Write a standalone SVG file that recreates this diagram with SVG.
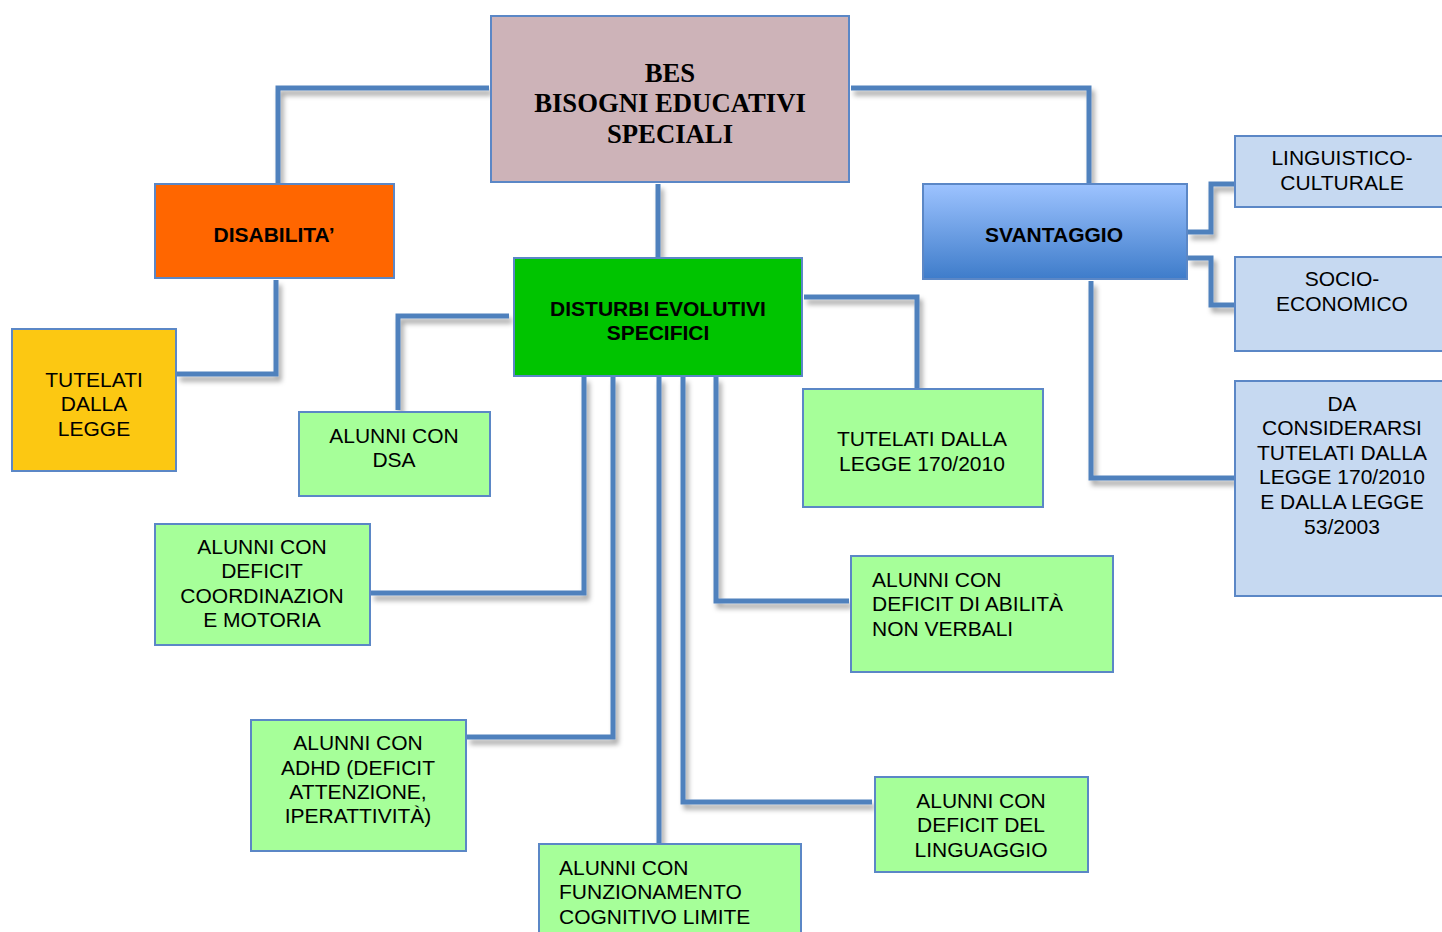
<svg xmlns="http://www.w3.org/2000/svg" width="1442" height="932" viewBox="0 0 1442 932">
<defs>
<linearGradient id="gSv" x1="0" y1="0" x2="0" y2="1">
<stop offset="0" stop-color="#9DC3FF"/>
<stop offset="1" stop-color="#3E7CCA"/>
</linearGradient>
<filter id="sh" filterUnits="userSpaceOnUse" x="0" y="0" width="1442" height="932">
<feDropShadow dx="3" dy="5" stdDeviation="2.5" flood-color="#000" flood-opacity="0.35"/>
</filter>
<style>
.c{fill:none;stroke:#4F81BD;stroke-width:5;filter:url(#sh)}
.b{stroke:#5B87C6;stroke-width:2}
.t{font-family:"Liberation Sans",Arial,sans-serif;font-size:21px;fill:#000}
.tb{font-family:"Liberation Sans",Arial,sans-serif;font-size:21px;font-weight:bold;fill:#000}
.ts{font-family:"Liberation Serif","Times New Roman",serif;font-size:26.7px;font-weight:bold;fill:#000}
.m{text-anchor:middle}
</style>
</defs>
<rect width="1442" height="932" fill="#fff"/>
<g id="connectors">
<path class="c" d="M489,88 H278 V184"/>
<path class="c" d="M851,88 H1089 V184"/>
<path class="c" d="M658,184 V258"/>
<path class="c" d="M276,280 V374 H177"/>
<path class="c" d="M1188,232 H1211 V184 H1235"/>
<path class="c" d="M1188,258 H1211 V305 H1235"/>
<path class="c" d="M1091,281 V478 H1235"/>
<path class="c" d="M509,316 H398 V410"/>
<path class="c" d="M804,297 H917 V390"/>
<path class="c" d="M584,377 V593 H371"/>
<path class="c" d="M613,377 V737 H467"/>
<path class="c" d="M659,377 V844"/>
<path class="c" d="M683,377 V802 H872"/>
<path class="c" d="M716,377 V601 H849"/>
</g>
<g id="bes">
<rect class="b" x="491" y="16" width="358" height="166" fill="#CDB3B8"/>
<text class="ts m" x="670" y="82">BES</text>
<text class="ts m" x="670" y="112">BISOGNI EDUCATIVI</text>
<text class="ts m" x="670" y="143">SPECIALI</text>
</g>
<g id="disabilita">
<rect class="b" x="155" y="184" width="239" height="94" fill="#FF6600"/>
<text class="tb m" x="274" y="242">DISABILITA’</text>
</g>
<g id="tutelati-legge">
<rect class="b" x="12" y="329" width="164" height="142" fill="#FCC812"/>
<text class="t m" x="94" y="387">TUTELATI</text>
<text class="t m" x="94" y="411">DALLA</text>
<text class="t m" x="94" y="436">LEGGE</text>
</g>
<g id="svantaggio">
<rect class="b" x="923" y="184" width="264" height="95" fill="url(#gSv)"/>
<text class="tb m" x="1054" y="242">SVANTAGGIO</text>
</g>
<g id="linguistico">
<rect class="b" x="1235" y="136" width="210" height="71" fill="#C6D9F1"/>
<text class="t m" x="1342" y="165">LINGUISTICO-</text>
<text class="t m" x="1342" y="190">CULTURALE</text>
</g>
<g id="socio">
<rect class="b" x="1235" y="257" width="210" height="94" fill="#C6D9F1"/>
<text class="t m" x="1342" y="286">SOCIO-</text>
<text class="t m" x="1342" y="311">ECONOMICO</text>
</g>
<g id="da-considerarsi">
<rect class="b" x="1235" y="381" width="210" height="215" fill="#C6D9F1"/>
<text class="t m" x="1342" y="411">DA</text>
<text class="t m" x="1342" y="435">CONSIDERARSI</text>
<text class="t m" x="1342" y="460">TUTELATI DALLA</text>
<text class="t m" x="1342" y="484">LEGGE 170/2010</text>
<text class="t m" x="1342" y="509">E DALLA LEGGE</text>
<text class="t m" x="1342" y="534">53/2003</text>
</g>
<g id="disturbi">
<rect class="b" x="514" y="258" width="288" height="118" fill="#00C400"/>
<text class="tb m" x="658" y="316">DISTURBI EVOLUTIVI</text>
<text class="tb m" x="658" y="340">SPECIFICI</text>
</g>
<g id="dsa">
<rect class="b" x="299" y="412" width="191" height="84" fill="#A6FF99"/>
<text class="t m" x="394" y="443">ALUNNI CON</text>
<text class="t m" x="394" y="467">DSA</text>
</g>
<g id="tutelati-170">
<rect class="b" x="803" y="389" width="240" height="118" fill="#A6FF99"/>
<text class="t m" x="922" y="446">TUTELATI DALLA</text>
<text class="t m" x="922" y="471">LEGGE 170/2010</text>
</g>
<g id="coordinazione">
<rect class="b" x="155" y="524" width="215" height="121" fill="#A6FF99"/>
<text class="t m" x="262" y="554">ALUNNI CON</text>
<text class="t m" x="262" y="578">DEFICIT</text>
<text class="t m" x="262" y="603">COORDINAZION</text>
<text class="t m" x="262" y="627">E MOTORIA</text>
</g>
<g id="abilita">
<rect class="b" x="851" y="556" width="262" height="116" fill="#A6FF99"/>
<text class="t" x="872" y="587">ALUNNI CON</text>
<text class="t" x="872" y="611">DEFICIT DI ABILITÀ</text>
<text class="t" x="872" y="636">NON VERBALI</text>
</g>
<g id="adhd">
<rect class="b" x="251" y="720" width="215" height="131" fill="#A6FF99"/>
<text class="t m" x="358" y="750">ALUNNI CON</text>
<text class="t m" x="358" y="775">ADHD (DEFICIT</text>
<text class="t m" x="358" y="799">ATTENZIONE,</text>
<text class="t m" x="358" y="823">IPERATTIVITÀ)</text>
</g>
<g id="linguaggio">
<rect class="b" x="875" y="777" width="213" height="95" fill="#A6FF99"/>
<text class="t m" x="981" y="808">ALUNNI CON</text>
<text class="t m" x="981" y="832">DEFICIT DEL</text>
<text class="t m" x="981" y="857">LINGUAGGIO</text>
</g>
<g id="funzionamento">
<rect class="b" x="539" y="844" width="262" height="100" fill="#A6FF99"/>
<text class="t" x="559" y="875">ALUNNI CON</text>
<text class="t" x="559" y="899">FUNZIONAMENTO</text>
<text class="t" x="559" y="924">COGNITIVO LIMITE</text>
</g>
</svg>
